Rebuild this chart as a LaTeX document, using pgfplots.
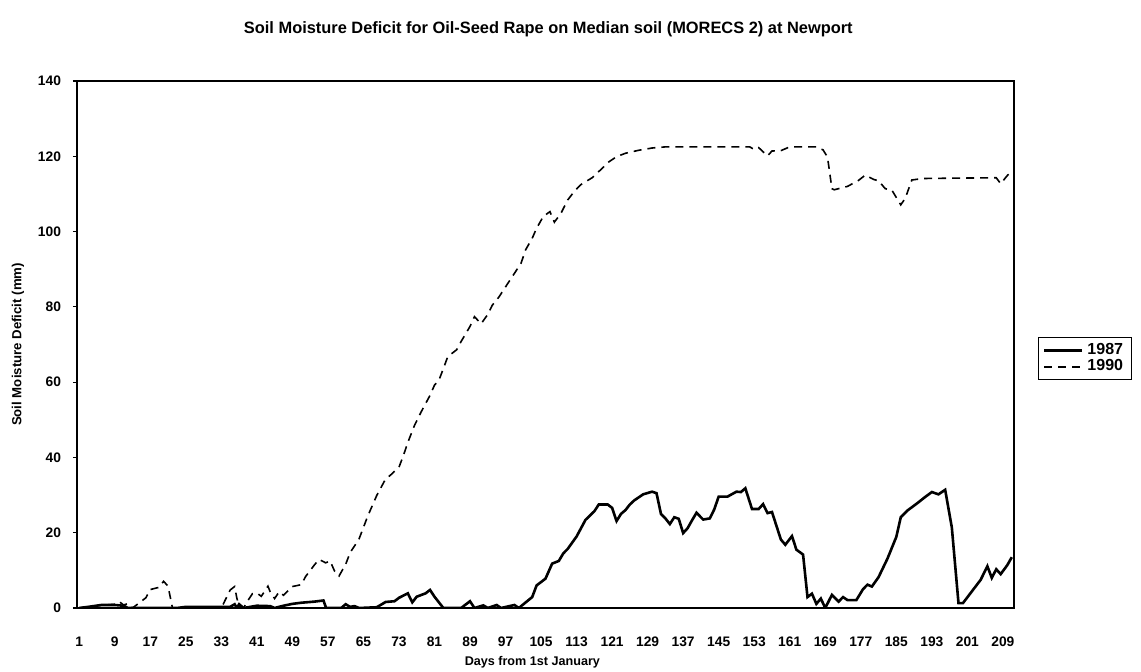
\documentclass[border=0pt]{standalone}
\usepackage{fontspec}
\setmainfont{Liberation Sans}
\usepackage{pgfplots}
\pgfplotsset{compat=1.18}
\begin{document}
\begin{tikzpicture}
\begin{axis}[
  at={(0,0)}, anchor=south west,
  scale only axis, width=468.5pt, height=263.5pt,
  xmin=0.5, xmax=211.5, ymin=0, ymax=140,
  xtick={1,9,...,209}, ytick={0,20,...,140},
  xtick pos=bottom, ytick pos=left,
  tick align=outside, major tick length=2pt,
  xtick style={draw=none}, ytick style={black, line width=0.6pt},
  axis line style={line width=1pt},
  /pgf/number format/assume math mode=true,
  ticklabel style={font=\bfseries\fontsize{6.9}{8}\selectfont},
  xticklabel style={yshift=-9pt},
  yticklabel style={xshift=-2.5pt},
  title={Soil Moisture Deficit for Oil-Seed Rape on Median soil (MORECS 2) at Newport},
  title style={at={(axis description cs:0.503,1.076)}, anchor=center, yshift=0pt, font=\bfseries\fontsize{8.2}{9}\selectfont},
  xlabel={Days from 1st January},
  xlabel style={at={(axis description cs:0.486,-0.1025)}, anchor=center, font=\bfseries\fontsize{6.3}{8}\selectfont},
  ylabel={Soil Moisture Deficit (mm)},
  ylabel style={at={(axis description cs:-0.063,0.5)}, anchor=center, rotate=0, font=\bfseries\fontsize{6.6}{8}\selectfont},
  legend style={at={(axis description cs:1.026,0.514)}, anchor=north west, draw=black, line width=0.5pt, fill=white, inner xsep=2pt, inner ysep=1pt, row sep=-3pt, font=\bfseries\fontsize{8}{9}\selectfont},
  legend cell align=left,
  legend image code/.code={\draw[#1] (0pt,0pt) -- (19pt,0pt);},
]
\addplot[black, line width=1.3pt] coordinates {
(1,0) (3,0.3) (6,0.8) (9,0.8) (11,0.6) (12,0) (23,0) (25,0.3) (33,0.3) (35,0.3) (36,1) (36.5,0) (37,1) (38,0)
(41,0.6) (44,0.5) (45,0) (47,0.6) (49,1.1) (51,1.4) (54,1.7) (56,2) (56.6,0) (60,0) (61,1) (62,0.3) (63,0.5) (64,0)
(68,0.2) (70,1.6) (72,1.8) (73,2.7) (75,3.9) (76,1.5) (77,3) (79,3.9) (80,4.8) (81,3) (83,0) (87,0) (89,1.8) (90,0)
(92,0.7) (93,0) (95,0.8) (96,0) (99,0.8) (100,0) (103,2.9) (104,6) (106,7.8) (107.5,11.8) (109,12.5) (110,14.5)
(111,15.7) (113,19) (115,23.4) (117,25.7) (118,27.5) (120,27.5) (121,26.6) (122,23.1) (123,25) (124,26) (125,27.5)
(126,28.6) (128,30.2) (130,30.9) (131,30.5) (132,25) (133,23.8) (134,22.3) (135,24.1) (136,23.7) (137,19.9)
(138,21.2) (139,23.3) (140,25.3) (141.5,23.5) (143,23.8) (144,26.2) (145,29.6) (147,29.6) (149,30.9) (150,30.8)
(151,31.8) (152.5,26.3) (154,26.3) (155,27.6) (156,25.2) (157,25.5) (159,18.2) (160,16.8) (161.5,19.1) (162.5,15.5)
(164,14.2) (165,2.9) (166,3.8) (167,1.1) (168,2.5) (169,0) (170.5,3.5) (172,1.7) (173,2.9) (174,2.1) (176,2.1)
(177.5,5) (178.5,6.2) (179.5,5.7) (181,8.2) (183,13.1) (185,18.9) (186,24.1) (187.5,25.9) (189,27.2) (190,28.1)
(191.5,29.5) (193,30.8) (194.5,30.2) (196,31.4) (197.5,21.4) (199,1.3) (200,1.3) (202,4.4) (204,7.5) (205.5,11.1)
(206.5,8) (207.5,10.3) (208.5,9) (210,11.4) (211,13.5)
};
\addlegendentry{1987}
\addplot[black, line width=0.8pt, dash pattern=on 4pt off 3pt] coordinates {
(1,0) (4,0.5) (7,0.8) (9,1.0) (10,1.7) (11,0.8) (12,1.2) (13,0) (14,0.9) (16,2.7) (17,4.9) (19,5.5) (20,7.1) (21,5.8)
(22,0) (33,0) (34,2.4) (35,4.8) (36,5.7) (36.5,2.6) (37,0.5) (38,0) (39,2) (40,3.8) (41,4) (42,3.1) (43.5,5.8) (44,4.3)
(45,2.5) (46,4.3) (47,3.4) (49,5.7) (51,6.2) (52,8.4) (54,11.5) (55,12.9) (56.5,12) (57.5,12.5) (58.5,9.8) (59.5,8.5)
(61,11.6) (62,14.7) (64,18.3) (65,21.4) (66,24.5) (68,29.9) (70,34.3) (71,35.2) (73,37.4) (74,40.5) (75,44)
(76.5,48.5) (78,52.1) (80,56.5) (81,59.2) (82,60.5) (83,63.6) (84,66.8) (86,68.6) (87,70.8) (89,74.8) (90,77.4)
(91.5,75.5) (93,78) (94,80.4) (95.5,82.6) (97,85.3) (99,88.9) (100.5,91.6) (101.5,95.1) (103,98.2) (104,100.9)
(105.5,104) (107,105.3) (108,102.5) (109.5,104.9) (111,108.4) (112.5,110.7) (114,112.5) (116.5,114.3) (118.5,116.5)
(120,118.3) (122,119.9) (124,120.8) (127,121.6) (130,122.2) (133,122.5) (152,122.5) (153,121.8) (154,122.3)
(156,120.1) (157,121.4) (159,121.5) (161,122.5) (167,122.5) (168.5,121.7) (169.5,119.8) (170.5,111.4) (171,111.1)
(174,112) (176.5,113.6) (178,115) (180,113.8) (181,113.5) (182.5,111.4) (184,111) (186,107.1) (187,108.8)
(188.5,113.7) (191,114.1) (207.5,114.3) (208.5,112.7) (210,114.9) (211,116)
};
\addlegendentry{1990}
\end{axis}
\pgfresetboundingbox
\path (-38.5pt,-31.5pt) rectangle (532pt,304pt);
\end{tikzpicture}
\end{document}
